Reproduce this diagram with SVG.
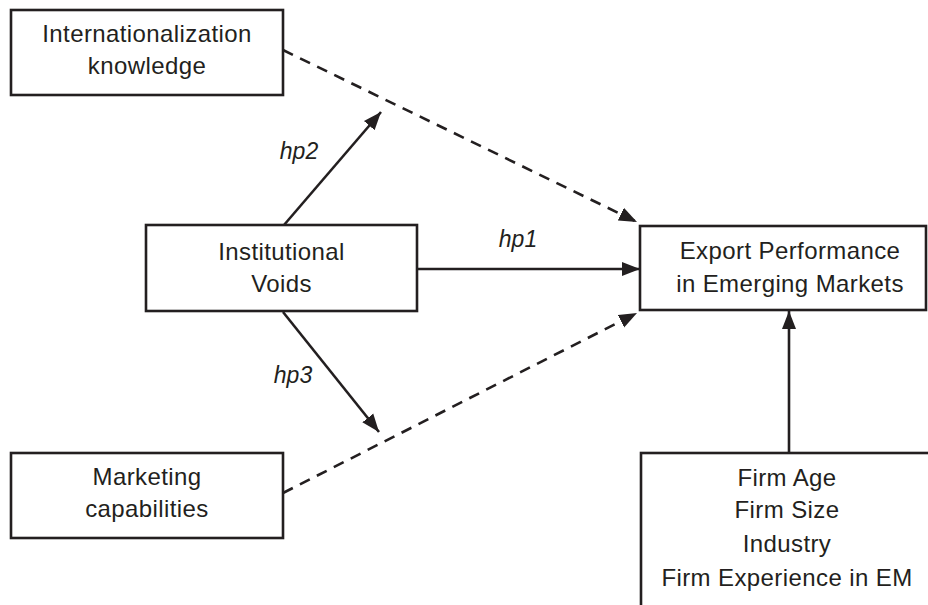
<svg xmlns="http://www.w3.org/2000/svg" width="928" height="605" viewBox="0 0 928 605">
<style>
.box{fill:#fff;stroke:#231f20;stroke-width:2.6}
.t{font-family:"Liberation Sans",Arial,sans-serif;font-size:24px;letter-spacing:0.4px;fill:#231f20;text-anchor:middle}
.lbl{font-family:"Liberation Sans",Arial,sans-serif;font-size:23px;font-style:italic;fill:#231f20;text-anchor:middle}
.ln{fill:none;stroke:#231f20;stroke-width:2.6}
.dash{stroke-dasharray:11 8}
</style>
<defs>
<marker id="ah" markerUnits="userSpaceOnUse" markerWidth="20" markerHeight="16" refX="18" refY="8" orient="auto">
<path d="M0,1 L18,8 L0,15 Z" fill="#231f20"/>
</marker>
</defs>
<g id="n-intl">
<rect class="box" x="11" y="10" width="272" height="85"/>
<text class="t" x="147" y="42">Internationalization</text>
<text class="t" x="147" y="74">knowledge</text>
</g>
<g id="n-inst">
<rect class="box" x="146" y="225" width="271" height="86"/>
<text class="t" x="281.5" y="260">Institutional</text>
<text class="t" x="281.5" y="292">Voids</text>
</g>
<g id="n-export">
<rect class="box" x="640" y="226" width="286" height="84"/>
<text class="t" x="790" y="259">Export Performance</text>
<text class="t" x="790" y="292">in Emerging Markets</text>
</g>
<g id="n-mkt">
<rect class="box" x="11" y="453" width="272" height="85"/>
<text class="t" x="147" y="485">Marketing</text>
<text class="t" x="147" y="517">capabilities</text>
</g>
<g id="n-ctrl">
<rect class="box" x="641" y="453" width="300" height="170"/>
<text class="t" x="787" y="486">Firm Age</text>
<text class="t" x="787" y="518">Firm Size</text>
<text class="t" x="787" y="552">Industry</text>
<text class="t" x="787" y="586">Firm Experience in EM</text>
</g>
<g id="connectors">
<line class="ln dash" x1="283" y1="50" x2="637" y2="222" marker-end="url(#ah)"/>
<line class="ln dash" x1="283" y1="493" x2="637" y2="313" marker-end="url(#ah)"/>
<line class="ln" x1="284" y1="225" x2="381" y2="112" marker-end="url(#ah)"/>
<line class="ln" x1="283" y1="312" x2="379" y2="432" marker-end="url(#ah)"/>
<line class="ln" x1="417" y1="269" x2="640" y2="269" marker-end="url(#ah)"/>
<line class="ln" x1="789" y1="453" x2="789" y2="311" marker-end="url(#ah)"/>
<text class="lbl" x="299" y="159">hp2</text>
<text class="lbl" x="518" y="247">hp1</text>
<text class="lbl" x="293" y="383">hp3</text>
</g>
</svg>
